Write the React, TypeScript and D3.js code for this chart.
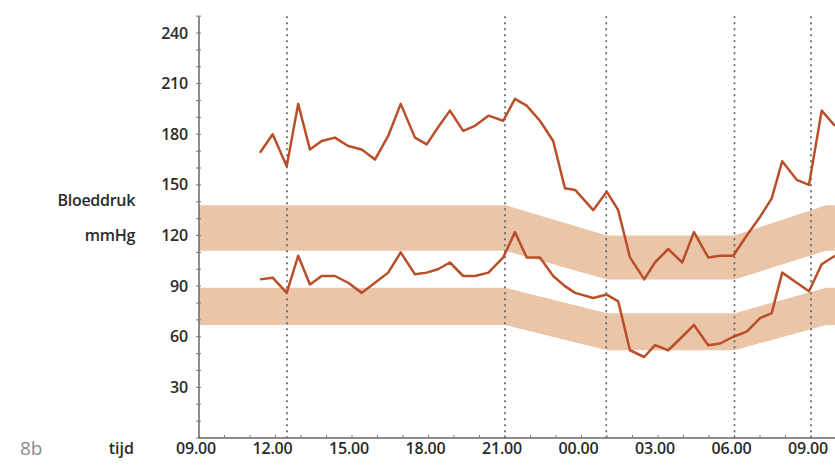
import React from 'react';
import * as d3 from 'd3';

// measurement times in hours (24+ = next day)
const times = [
  11.39, 11.89, 12.44, 12.89, 13.35, 13.81, 14.33, 14.85, 15.38, 15.9,
  16.42, 16.91, 17.47, 17.93, 18.37, 18.84, 19.36, 19.82, 20.35, 20.93,
  21.39, 21.85, 22.37, 22.89, 23.35, 23.75, 24.46, 24.99, 25.44, 25.9,
  26.46, 26.88, 27.4, 27.95, 28.41, 28.97, 29.43, 29.95, 30.48, 31.0,
  31.46, 31.87, 32.44, 32.92, 33.42, 33.94,
];
const systolic = [
  169, 180, 161, 198, 171, 176, 178, 173, 171, 165,
  179, 198, 178, 174, 184, 194, 182, 185, 191, 188,
  201, 197, 188, 176, 148, 147, 135, 146, 135, 107,
  94, 104, 112, 104, 122, 107, 108, 108, 120, 131,
  142, 164, 153, 150, 194, 185,
];
const diastolic = [
  94, 95, 86, 108, 91, 96, 96, 92, 86, 92,
  98, 110, 97, 98, 100, 104, 96, 96, 98, 107,
  122, 107, 107, 96, 90, 86, 83, 85, 81, 52,
  48, 55, 52, 60, 67, 55, 56, 60, 63, 71,
  74, 98, 92, 87, 103, 108,
];

// normal range bands (day / night)
const bandTimes = [9, 21, 25, 30, 33.6, 35];
const sysLow = [111, 111, 94, 94, 111, 111];
const sysHigh = [138, 138, 120, 120, 138, 138];
const diaLow = [67, 67, 52, 52, 67, 67];
const diaHigh = [89, 89, 74, 74, 89, 89];

const markerTimes = [12.45, 21, 24.97, 30, 33];
const xTickLabels = ['09.00', '12.00', '15.00', '18.00', '21.00', '00.00', '03.00', '06.00', '09.00'];
const yTickLabels = [30, 60, 90, 120, 150, 180, 210, 240];

const W = 835;
const H = 466;
const FONT = '"Open Sans", "DejaVu Sans", sans-serif';
const INK = '#2b2b2b';

export default function App() {
  const x = d3.scaleLinear().domain([9, 33]).range([199, 811]);
  const y = d3.scaleLinear().domain([0, 240]).range([438, 33]);
  const yTop = y(250);

  const band = (lo: number[], hi: number[]) =>
    d3.area<number>()
      .x((t) => x(t))
      .y0((_, i) => y(lo[i]))
      .y1((_, i) => y(hi[i]))(bandTimes) ?? '';

  const pts = times.map((t, i) => i);
  const line = (vals: number[]) =>
    d3.line<number>()
      .x((i) => x(times[i]))
      .y((i) => y(vals[i]))(pts) ?? '';

  const hourTicks = d3.range(9, 35, 1);
  const yMinor = d3.range(0, 251, 10);

  return (
    <svg width={W} height={H} style={{ position: 'absolute', left: 0, top: 0, background: '#fff' }}
      fontFamily={FONT}>
      {/* bands */}
      <path d={band(sysLow, sysHigh)} fill="#eac5a7" />
      <path d={band(diaLow, diaHigh)} fill="#eac5a7" />

      {/* event markers */}
      {markerTimes.map((t, i) => (
        <line key={i} x1={x(t)} x2={x(t)} y1={yTop} y2={y(0)}
          stroke="#5f636a" strokeWidth={1.7} strokeDasharray="2,4" />
      ))}

      {/* axes */}
      <line x1={x(9)} x2={x(9)} y1={yTop} y2={y(0)} stroke="#666" strokeWidth={1.5} />
      {yMinor.map((v) => (
        <line key={v} x1={x(9) - 3} x2={x(9) + 2} y1={y(v)} y2={y(v)} stroke="#777" strokeWidth={1} />
      ))}
      <line x1={x(9)} x2={W} y1={y(0)} y2={y(0)} stroke="#666" strokeWidth={1.5} />
      {hourTicks.map((t) => (
        <line key={t} x1={x(t)} x2={x(t)} y1={y(0)} y2={y(0) - 3} stroke="#777" strokeWidth={1} />
      ))}

      {/* lines */}
      <path d={line(systolic)} fill="none" stroke="#b94f2a" strokeWidth={2.5} strokeLinejoin="round" />
      <path d={line(diastolic)} fill="none" stroke="#b94f2a" strokeWidth={2.5} strokeLinejoin="round" />

      {/* y labels */}
      {yTickLabels.map((v) => (
        <text key={v} x={188} y={y(v)} dy="0.35em" textAnchor="end" fontSize={16}
          fontWeight={600} fill={INK} letterSpacing={-0.2}>{v}</text>
      ))}
      <text x={135} y={y(141)} dy="0.35em" textAnchor="end" fontSize={16} fontWeight={600} fill={INK}
        letterSpacing={-0.3}>Bloeddruk</text>
      <text x={135} y={y(120)} dy="0.35em" textAnchor="end" fontSize={16} fontWeight={600} fill={INK}
        letterSpacing={-0.3}>mmHg</text>

      {/* x labels */}
      {xTickLabels.map((s, i) => (
        <text key={i} x={x(9 + i * 3) - 3} y={454} textAnchor="middle" fontSize={16}
          fontWeight={600} fill={INK} letterSpacing={-0.2}>{s}</text>
      ))}
      <text x={134} y={454} textAnchor="end" fontSize={16} fontWeight={600} fill={INK}>tijd</text>
      <text x={20} y={455} fontSize={19} fill="#8a8a8a">8b</text>
    </svg>
  );
}
